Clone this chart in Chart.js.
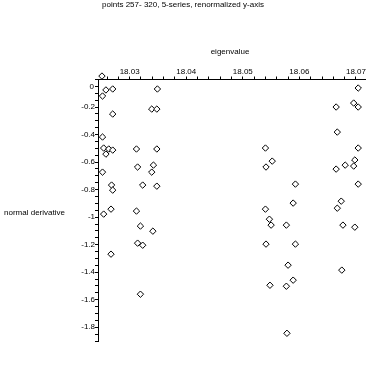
<!DOCTYPE html>
<html>
<head>
<meta charset="utf-8">
<script src="https://cdn.jsdelivr.net/npm/chart.js@4/dist/chart.umd.min.js"></script>
<style>
html,body{margin:0;padding:0;background:#fff;}
#wrap{width:370px;height:370px;}
</style>
</head>
<body>
<div id="wrap"><canvas id="c" width="370" height="370"></canvas></div>
<script>
const chartTitle = 'points 257- 320, 5-series, renormalized y-axis';
const xAxisTitle = 'eigenvalue';
const yAxisTitle = 'normal derivative';
const xTickLabels = ['18.03', '18.04', '18.05', '18.06', '18.07'];
const yTickLabels = ['0', '-0.2', '-0.4', '-0.6', '-0.8', '-1', '-1.2', '-1.4', '-1.6', '-1.8'];

const eigenvalues = [
  18.0251, 18.0258, 18.0252, 18.0270, 18.0349, 18.0339, 18.0348, 18.0270,
  18.0252, 18.0254, 18.0263, 18.0270, 18.0258, 18.0312, 18.0348, 18.0252,
  18.0314, 18.0342, 18.0339, 18.0268, 18.0323, 18.0348, 18.0270, 18.0267,
  18.0254, 18.0312, 18.0319, 18.0341, 18.0314, 18.0323, 18.0267, 18.0319,
  18.0704, 18.0696, 18.0704, 18.0665, 18.0667, 18.0540, 18.0704, 18.0552,
  18.0541, 18.0698, 18.0696, 18.0681, 18.0665, 18.0593, 18.0704, 18.0589,
  18.0674, 18.0540, 18.0667, 18.0547, 18.0550, 18.0577, 18.0677, 18.0698,
  18.0541, 18.0593, 18.0580, 18.0675, 18.0589, 18.0548, 18.0577, 18.0578
];
const normalDerivative = [
  0.025, -0.076, -0.120, -0.069, -0.069, -0.215, -0.215, -0.251,
  -0.418, -0.498, -0.505, -0.513, -0.542, -0.505, -0.505, -0.673,
  -0.636, -0.622, -0.673, -0.767, -0.767, -0.775, -0.804, -0.942,
  -0.978, -0.956, -1.065, -1.102, -1.189, -1.204, -1.269, -1.560,
  -0.062, -0.171, -0.200, -0.200, -0.382, -0.498, -0.498, -0.593,
  -0.636, -0.585, -0.629, -0.622, -0.651, -0.760, -0.760, -0.898,
  -0.884, -0.942, -0.935, -1.015, -1.058, -1.058, -1.058, -1.073,
  -1.196, -1.196, -1.349, -1.385, -1.458, -1.495, -1.502, -1.844
];

const FONT = '"Liberation Sans", Arial, sans-serif';
const points = eigenvalues.map((x, i) => ({x: x, y: normalDerivative[i]}));

function xLabel(v) {
  const s = v.toFixed(2);
  return (Math.abs(v * 100 - Math.round(v * 100)) < 1e-6 && xTickLabels.includes(s)) ? s : '';
}
function yLabel(v) {
  if (Math.abs(v) < 1e-9) return ''; // drawn separately, offset below the axis
  const r = Math.round(v * 10) / 10;
  if (Math.abs(v * 5 - Math.round(v * 5)) > 1e-6) return '';
  const s = String(r);
  return yTickLabels.includes(s) ? s : '';
}

const textPlugin = {
  id: 'texts',
  afterDraw(chart) {
    const ctx = chart.ctx;
    const ys = chart.scales.y;
    ctx.save();
    ctx.fillStyle = '#000';
    ctx.font = '8px ' + FONT;
    ctx.textBaseline = 'middle';
    ctx.textAlign = 'center';
    ctx.fillText(chartTitle, 183, 5);
    ctx.fillText(xAxisTitle, 230, 52);
    ctx.textAlign = 'left';
    ctx.fillText(yAxisTitle, 4, 213);
    ctx.textAlign = 'right';
    ctx.fillText(yTickLabels[0], ys.right - 4, ys.getPixelForValue(0) + 7);
    ctx.restore();
  }
};

new Chart(document.getElementById('c'), {
  type: 'scatter',
  data: {
    datasets: [{
      data: points,
      pointStyle: 'rectRot',
      pointRadius: 3.2,
      pointBorderWidth: 1,
      pointBorderColor: '#000',
      pointBackgroundColor: '#fff',
      clip: false
    }]
  },
  options: {
    responsive: false,
    animation: false,
    devicePixelRatio: 1,
    layout: {padding: {left: 0, right: 4, top: 0, bottom: 29}},
    plugins: {legend: {display: false}, tooltip: {enabled: false}, title: {display: false}},
    scales: {
      x: {
        type: 'linear',
        position: 'top',
        min: 18.0244,
        max: 18.0716,
        afterFit(scale) { scale.height = 79.5; },
        grid: {drawOnChartArea: false, drawTicks: true, tickLength: 3, tickColor: '#000'},
        border: {display: true, color: '#000', width: 1},
        ticks: {
          stepSize: 0.002,
          autoSkip: false,
          includeBounds: false,
          maxRotation: 0,
          padding: 0,
          color: '#000',
          font: {family: FONT, size: 8},
          callback: (v) => xLabel(v)
        }
      },
      y: {
        type: 'linear',
        position: 'left',
        min: -1.9,
        max: 0,
        afterFit(scale) { scale.width = 98; },
        grid: {drawOnChartArea: false, drawTicks: true, tickLength: 3, tickColor: '#000'},
        border: {display: true, color: '#000', width: 1},
        ticks: {
          stepSize: 0.05,
          autoSkip: false,
          includeBounds: false,
          padding: 0,
          color: '#000',
          font: {family: FONT, size: 8},
          callback: (v) => yLabel(v)
        }
      }
    }
  },
  plugins: [textPlugin]
});
</script>
</body>
</html>
